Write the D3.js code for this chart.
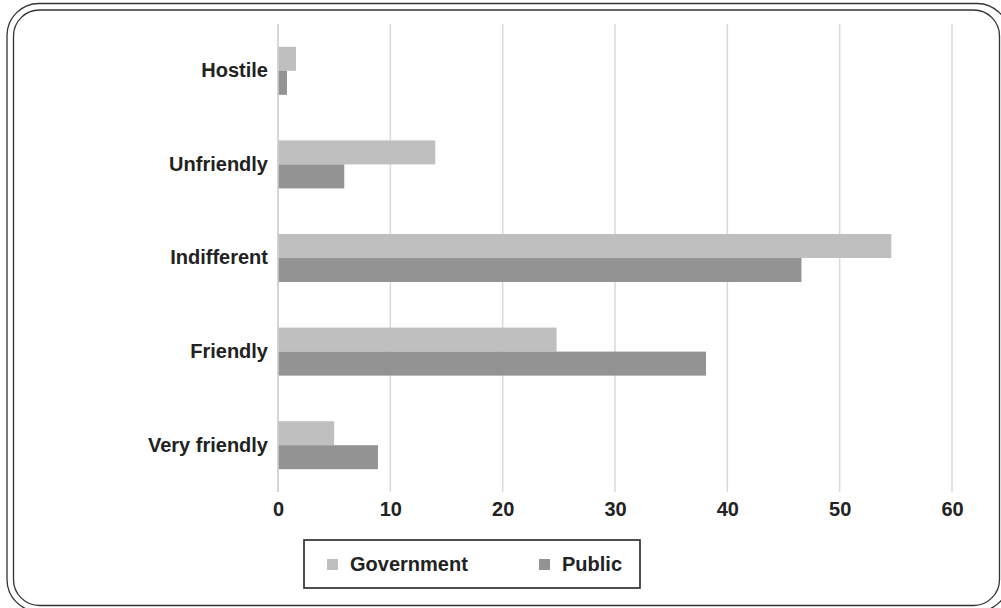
<!DOCTYPE html>
<html>
<head>
<meta charset="utf-8">
<script src="https://cdn.jsdelivr.net/npm/d3@7"></script>
<style>
  html, body { margin: 0; padding: 0; background: #fff; }
  svg { display: block; }
  text { font-family: "Liberation Sans", Arial, Helvetica, sans-serif; font-weight: bold; fill: #222; }
</style>
</head>
<body>
<svg id="chart" width="1001" height="608"></svg>
<script>
// Attitude categories, top to bottom
const categories = ["Hostile", "Unfriendly", "Indifferent", "Friendly", "Very friendly"];
// Share of responses (%) per series
const series = ["Government", "Public"];
const governmentValues = [1.6, 14.0, 54.6, 24.8, 5.0];
const publicValues = [0.8, 5.9, 46.6, 38.1, 8.9];
const xTicks = [0, 10, 20, 30, 40, 50, 60];

const colors = { Government: "#bfbfbf", Public: "#939393" };
const fontSize = "20px";

const svg = d3.select("#chart");

// Double rounded frame
svg.append("rect")
  .attr("x", 7).attr("y", 3.5).attr("width", 1002).attr("height", 608)
  .attr("rx", 32).attr("ry", 32)
  .attr("fill", "none").attr("stroke", "#333").attr("stroke-width", 1.3);
svg.append("rect")
  .attr("x", 13.5).attr("y", 10).attr("width", 986).attr("height", 595.5)
  .attr("rx", 26).attr("ry", 26)
  .attr("fill", "none").attr("stroke", "#333").attr("stroke-width", 1.3);

const x = d3.scaleLinear().domain([0, 60]).range([278, 952]);
const y = d3.scaleBand().domain(categories).range([24, 492])
  .paddingInner(0.487).paddingOuter(0.2435);
const ySub = d3.scaleBand().domain(series).range([0, y.bandwidth()]);

// Vertical gridlines
svg.append("g")
  .selectAll("line")
  .data(xTicks)
  .join("line")
  .attr("x1", d => x(d)).attr("x2", d => x(d))
  .attr("y1", 24).attr("y2", 492)
  .attr("stroke", "#d9d9d9").attr("stroke-width", 1.5);

// Bars
const rows = categories.map((c, i) => ({
  category: c,
  values: [
    { key: "Government", value: governmentValues[i] },
    { key: "Public", value: publicValues[i] }
  ]
}));

svg.append("g")
  .selectAll("g")
  .data(rows)
  .join("g")
  .attr("transform", d => `translate(0,${y(d.category)})`)
  .selectAll("rect")
  .data(d => d.values)
  .join("rect")
  .attr("x", x(0))
  .attr("y", d => ySub(d.key))
  .attr("width", d => x(d.value) - x(0))
  .attr("height", ySub.bandwidth())
  .attr("fill", d => colors[d.key]);

// Category axis line at zero
svg.append("line")
  .attr("x1", x(0)).attr("x2", x(0))
  .attr("y1", 24).attr("y2", 492)
  .attr("stroke", "#d0d0d0").attr("stroke-width", 1.5);

// Category labels
const yAxis = d3.axisLeft(y).tickSize(0).tickPadding(10);
const yg = svg.append("g").attr("transform", `translate(${x(0)},0)`).call(yAxis);
yg.select(".domain").remove();
yg.selectAll("text")
  .attr("font-size", fontSize)
  .attr("font-family", null)
  .attr("fill", "#222");

// Value axis labels
const xAxis = d3.axisBottom(x).tickValues(xTicks).tickSize(0).tickPadding(10);
const xg = svg.append("g").attr("transform", "translate(0,492)").call(xAxis);
xg.select(".domain").remove();
xg.selectAll("text")
  .attr("font-size", fontSize)
  .attr("font-family", null)
  .attr("fill", "#222");

// Legend
const legend = svg.append("g");
legend.append("rect")
  .attr("x", 304).attr("y", 540).attr("width", 336).attr("height", 48)
  .attr("fill", "#fff").attr("stroke", "#222").attr("stroke-width", 1.6);
const legendItems = [
  { key: "Government", mx: 327, tx: 350 },
  { key: "Public", mx: 539, tx: 562 }
];
legend.selectAll("rect.swatch")
  .data(legendItems)
  .join("rect")
  .attr("class", "swatch")
  .attr("x", d => d.mx).attr("y", 559)
  .attr("width", 11).attr("height", 11)
  .attr("fill", d => colors[d.key]);
legend.selectAll("text")
  .data(legendItems)
  .join("text")
  .attr("x", d => d.tx).attr("y", 564)
  .attr("dy", "0.35em")
  .attr("font-size", fontSize)
  .text(d => d.key);
</script>
</body>
</html>
